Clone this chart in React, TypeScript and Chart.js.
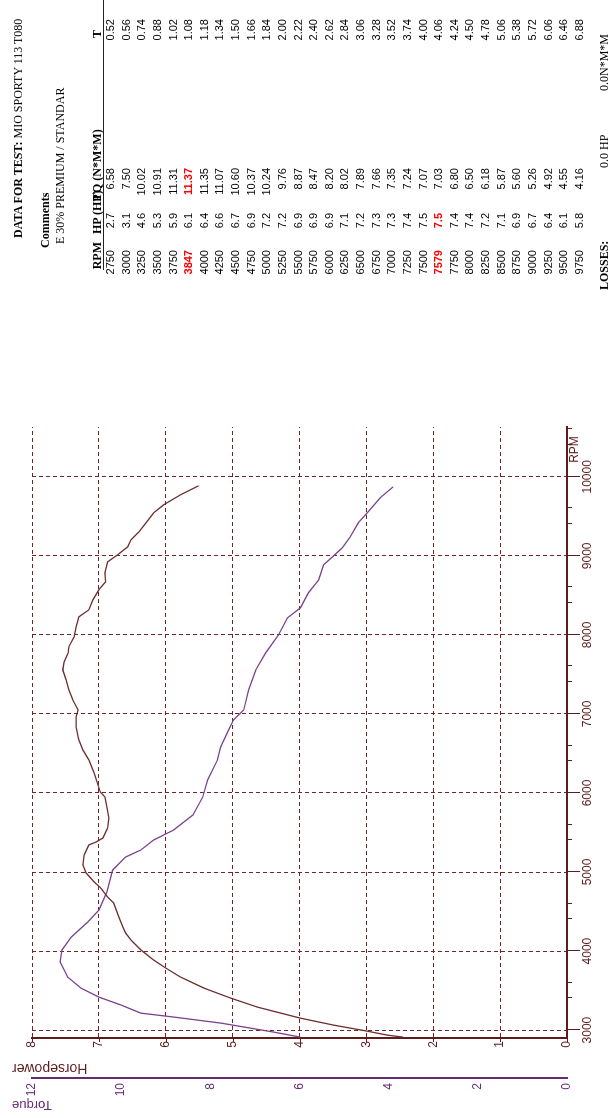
import React, { useEffect, useRef } from "react";
import { Chart, registerables } from "chart.js";

Chart.register(...registerables);

// ---- curve data ----
const hpRpm = [2911, 2937, 2987, 3063, 3152, 3215, 3291, 3405, 3532, 3671, 3785, 3886, 4013, 4139, 4228, 4304, 4430, 4608, 4684, 4797, 4873, 4987, 5089, 5215, 5342, 5380, 5430, 5557, 5684, 5823, 5949, 6013, 6253, 6418, 6544, 6671, 6709, 6835, 6962, 7051, 7177, 7304, 7430, 7557, 7658, 7772, 7848, 7975, 8101, 8228, 8316, 8443, 8570, 8671, 8785, 8924, 9013, 9114, 9203, 9304, 9544, 9646, 9772, 9886];
const hpValues = [2.45, 2.69, 2.99, 3.49, 3.99, 4.28, 4.63, 5.03, 5.43, 5.78, 6.0, 6.18, 6.37, 6.52, 6.6, 6.64, 6.7, 6.78, 6.87, 6.97, 7.07, 7.19, 7.24, 7.22, 7.15, 7.04, 6.94, 6.87, 6.85, 6.88, 6.91, 6.98, 7.07, 7.15, 7.24, 7.3, 7.31, 7.34, 7.34, 7.31, 7.39, 7.45, 7.49, 7.54, 7.52, 7.46, 7.45, 7.37, 7.34, 7.3, 7.15, 7.09, 7.0, 6.9, 6.91, 6.87, 6.72, 6.57, 6.52, 6.4, 6.18, 6.03, 5.78, 5.51];

const tqRpm = [2911, 2975, 3089, 3165, 3215, 3316, 3418, 3530, 3671, 3861, 4013, 4177, 4367, 4519, 4747, 5025, 5190, 5278, 5405, 5532, 5722, 5949, 6165, 6418, 6582, 6797, 6924, 7051, 7304, 7557, 7772, 8000, 8215, 8342, 8532, 8696, 8886, 8987, 9101, 9241, 9418, 9544, 9734, 9873];
const tqValues = [5.98, 6.58, 7.77, 8.82, 9.56, 10.0, 10.5, 10.9, 11.2, 11.37, 11.33, 11.12, 10.75, 10.5, 10.32, 10.19, 9.9, 9.56, 9.27, 8.82, 8.39, 8.17, 8.06, 7.84, 7.77, 7.59, 7.48, 7.25, 7.14, 6.98, 6.76, 6.47, 6.27, 5.98, 5.8, 5.57, 5.46, 5.26, 5.04, 4.86, 4.68, 4.48, 4.19, 3.9];

const rpmTicks = [3000, 4000, 5000, 6000, 7000, 8000, 9000, 10000];
const rpmMinorTicks = [3400, 3600, 4400, 4600, 5400, 5600, 6400, 6600, 7400, 7600, 8400, 8600, 9400, 9600, 10400, 10600];

// ---- data table ----
const tableRpm = [2750, 3000, 3250, 3500, 3750, 3847, 4000, 4250, 4500, 4750, 5000, 5250, 5500, 5750, 6000, 6250, 6500, 6750, 7000, 7250, 7500, 7579, 7750, 8000, 8250, 8500, 8750, 9000, 9250, 9500, 9750];
const tableHp = [2.7, 3.1, 4.6, 5.3, 5.9, 6.1, 6.4, 6.6, 6.7, 6.9, 7.2, 7.2, 6.9, 6.9, 6.9, 7.1, 7.2, 7.3, 7.3, 7.4, 7.5, 7.5, 7.4, 7.4, 7.2, 7.1, 6.9, 6.7, 6.4, 6.1, 5.8];
const tableTq = [6.58, 7.5, 10.02, 10.91, 11.31, 11.37, 11.35, 11.07, 10.6, 10.37, 10.24, 9.76, 8.87, 8.47, 8.2, 8.02, 7.89, 7.66, 7.35, 7.24, 7.07, 7.03, 6.8, 6.5, 6.18, 5.87, 5.6, 5.26, 4.92, 4.55, 4.16];
const tableT = [0.52, 0.56, 0.74, 0.88, 1.02, 1.08, 1.18, 1.34, 1.5, 1.66, 1.84, 2.0, 2.22, 2.4, 2.62, 2.84, 3.06, 3.28, 3.52, 3.74, 4.0, 4.06, 4.24, 4.5, 4.78, 5.06, 5.38, 5.72, 6.06, 6.46, 6.88];
const peakTqRow = 5;
const peakHpRow = 21;

const PAGE_W = 1118;
const PAGE_H = 613;
const CANVAS_W = 745;

const SANS = '"Liberation Sans", Arial, sans-serif';
const SERIF = '"Liberation Serif", "Times New Roman", serif';
const AXIS_BROWN = "#5e1c1c";
const GRID = "#6e2626";
const HP_LINE = "#6c2e2e";
const TQ_LINE = "#7a428e";
const TQ_AXIS = "#662a78";

const decorPlugin = {
  id: "decor",
  afterDraw(chart: any) {
    const { ctx, chartArea, scales } = chart;
    const x = scales.x;
    const hp = scales.hp;
    const tq = scales.tq;
    ctx.save();
    ctx.strokeStyle = AXIS_BROWN;
    ctx.lineWidth = 1;
    const yb = chartArea.bottom;
    rpmTicks.forEach((v) => {
      const px = Math.round(x.getPixelForValue(v)) + 0.5;
      ctx.beginPath();
      ctx.moveTo(px, yb);
      ctx.lineTo(px, yb + 13);
      ctx.stroke();
    });
    rpmMinorTicks.forEach((v) => {
      if (v > x.max) return;
      const px = Math.round(x.getPixelForValue(v)) + 0.5;
      ctx.beginPath();
      ctx.moveTo(px, yb);
      ctx.lineTo(px, yb + 5);
      ctx.stroke();
    });
    hp.ticks.forEach((t: any) => {
      const py = Math.round(hp.getPixelForValue(t.value)) + 0.5;
      ctx.beginPath();
      ctx.moveTo(hp.right - 4, py);
      ctx.lineTo(hp.right, py);
      ctx.stroke();
    });
    // axis titles
    ctx.textAlign = "right";
    ctx.textBaseline = "middle";
    ctx.font = `13px ${SANS}`;
    ctx.fillStyle = TQ_AXIS;
    ctx.save();
    ctx.translate(tq.left + 13, 12);
    ctx.rotate(-Math.PI / 2);
    ctx.fillText("Torque", 0, 0);
    ctx.restore();
    ctx.font = `14px ${SANS}`;
    ctx.fillStyle = AXIS_BROWN;
    ctx.save();
    ctx.translate(hp.left + 10, 12);
    ctx.rotate(-Math.PI / 2);
    ctx.fillText("Horsepower", 0, 0);
    ctx.restore();
    // RPM label
    ctx.font = `12px ${SANS}`;
    ctx.textAlign = "left";
    ctx.fillText("RPM", x.getPixelForValue(10000) + 14, yb + 8);
    ctx.restore();
  },
};

function Txt(props: { left?: number; right?: number; center: number; size?: number; family?: string; bold?: boolean; color?: string; children: any }) {
  const size = props.size || 12;
  const lh = size + 3;
  const style: any = {
    position: "absolute",
    top: props.center - lh / 2,
    lineHeight: lh + "px",
    height: lh,
    fontSize: size,
    fontFamily: props.family || SERIF,
    fontWeight: props.bold ? "bold" : "normal",
    color: props.color || "#000",
    whiteSpace: "nowrap",
  };
  if (props.left !== undefined) style.left = props.left;
  if (props.right !== undefined) {
    style.right = PAGE_W - props.right;
    style.textAlign = "right";
  }
  return <div style={style}>{props.children}</div>;
}

const ROW0 = 110;
const ROW_STEP = 15.63;
const COL_RPM = 868;
const COL_HP = 905;
const COL_TQ = 950;
const COL_T = 1099;

export default function App() {
  const ref = useRef<HTMLCanvasElement>(null);

  useEffect(() => {
    const canvas = ref.current;
    if (!canvas) return;
    const chart = new Chart(canvas, {
      type: "line",
      data: {
        datasets: [
          {
            label: "Horsepower",
            data: hpRpm.map((r, i) => ({ x: r, y: hpValues[i] })),
            xAxisID: "x",
            yAxisID: "hp",
            borderColor: HP_LINE,
            borderWidth: 1.3,
            pointRadius: 0,
            fill: false,
            tension: 0,
          },
          {
            label: "Torque",
            data: tqRpm.map((r, i) => ({ x: r, y: tqValues[i] })),
            xAxisID: "x",
            yAxisID: "tq",
            borderColor: TQ_LINE,
            borderWidth: 1.3,
            pointRadius: 0,
            fill: false,
            tension: 0,
          },
        ],
      },
      options: {
        animation: false,
        responsive: false,
        maintainAspectRatio: false,
        layout: { padding: { top: 32, right: CANVAS_W - 691, bottom: 0, left: 0 } },
        plugins: { legend: { display: false }, tooltip: { enabled: false } },
        scales: {
          x: {
            type: "linear",
            position: "bottom",
            min: 2900,
            max: 10630,
            bounds: "data",
            afterFit: (s: any) => {
              s.height = 46;
            },
            afterBuildTicks: (s: any) => {
              s.ticks = rpmTicks.map((v) => ({ value: v }));
            },
            ticks: {
              autoSkip: false,
              maxRotation: 0,
              minRotation: 0,
              padding: 13,
              color: AXIS_BROWN,
              font: { family: SANS, size: 12 },
              callback: (v: any) => String(v),
            },
            grid: { color: GRID, lineWidth: 1, drawTicks: false },
            border: { display: true, color: AXIS_BROWN, width: 2, dash: [4, 3] },
          },
          hp: {
            type: "linear",
            position: "left",
            weight: 0,
            min: 0,
            max: 8,
            afterFit: (s: any) => {
              s.width = 40;
            },
            ticks: { stepSize: 1, padding: 3, color: AXIS_BROWN, font: { family: SANS, size: 12 } },
            grid: {
              color: (c: any) => (c.tick && c.tick.value === 0 ? "rgba(0,0,0,0)" : GRID),
              lineWidth: 1,
              drawTicks: false,
            },
            border: { display: true, color: AXIS_BROWN, width: 2, dash: [4, 3] },
          },
          tq: {
            type: "linear",
            position: "left",
            weight: 1,
            min: 0,
            max: 12,
            afterFit: (s: any) => {
              s.width = 40;
            },
            ticks: { stepSize: 2, padding: 5, color: TQ_AXIS, font: { family: SANS, size: 12 } },
            grid: { display: false, drawTicks: false },
            border: { display: true, color: TQ_AXIS, width: 2 },
          },
        },
      } as any,
      plugins: [decorPlugin],
    });
    return () => chart.destroy();
  }, []);

  return (
    <div
      style={{
        position: "fixed",
        left: 0,
        top: 0,
        width: PAGE_W,
        height: PAGE_H,
        overflow: "hidden",
        background: "#fff",
        transformOrigin: "0 0",
        transform: `translate(0px, ${PAGE_W}px) rotate(-90deg)`,
      }}
    >
      <div style={{ position: "absolute", left: 0, top: 0, width: CANVAS_W, height: PAGE_H }}>
        <canvas ref={ref} width={CANVAS_W} height={PAGE_H} style={{ display: "block", width: CANVAS_W, height: PAGE_H }} />
      </div>

      <Txt left={880} center={18}>
        <b>DATA FOR TEST:</b> MIO SPORTY 113 T080
      </Txt>
      <Txt left={870} center={45} bold>
        Comments
      </Txt>
      <Txt left={874} center={60}>
        E 30% PREMIUM / STANDAR
      </Txt>

      <Txt right={876} center={97} bold>
        RPM
      </Txt>
      <Txt left={884} center={97} bold>
        HP (HP)
      </Txt>
      <Txt left={917} center={97} bold>
        TQ (N*M*M)
      </Txt>
      <Txt left={1080} center={97} bold>
        T
      </Txt>
      <div style={{ position: "absolute", left: 848, top: 103, width: PAGE_W - 848, height: 1, background: "#222" }} />

      {tableRpm.map((r, i) => {
        const c = ROW0 + i * ROW_STEP;
        return (
          <React.Fragment key={r}>
            <Txt right={COL_RPM} center={c} size={11} family={SANS} bold={i === peakTqRow || i === peakHpRow} color={i === peakTqRow || i === peakHpRow ? "#ff0000" : "#000"}>
              {String(r)}
            </Txt>
            <Txt right={COL_HP} center={c} size={11} family={SANS} bold={i === peakHpRow} color={i === peakHpRow ? "#ff0000" : "#000"}>
              {tableHp[i].toFixed(1)}
            </Txt>
            <Txt right={COL_TQ} center={c} size={11} family={SANS} bold={i === peakTqRow} color={i === peakTqRow ? "#ff0000" : "#000"}>
              {tableTq[i].toFixed(2)}
            </Txt>
            <Txt right={COL_T} center={c} size={11} family={SANS}>
              {tableT[i].toFixed(2)}
            </Txt>
          </React.Fragment>
        );
      })}

      <Txt left={828} center={604} bold>
        LOSSES:
      </Txt>
      <Txt left={950} center={604}>
        0.0 HP
      </Txt>
      <Txt left={1027} center={604}>
        0.0N*M*M
      </Txt>
    </div>
  );
}
